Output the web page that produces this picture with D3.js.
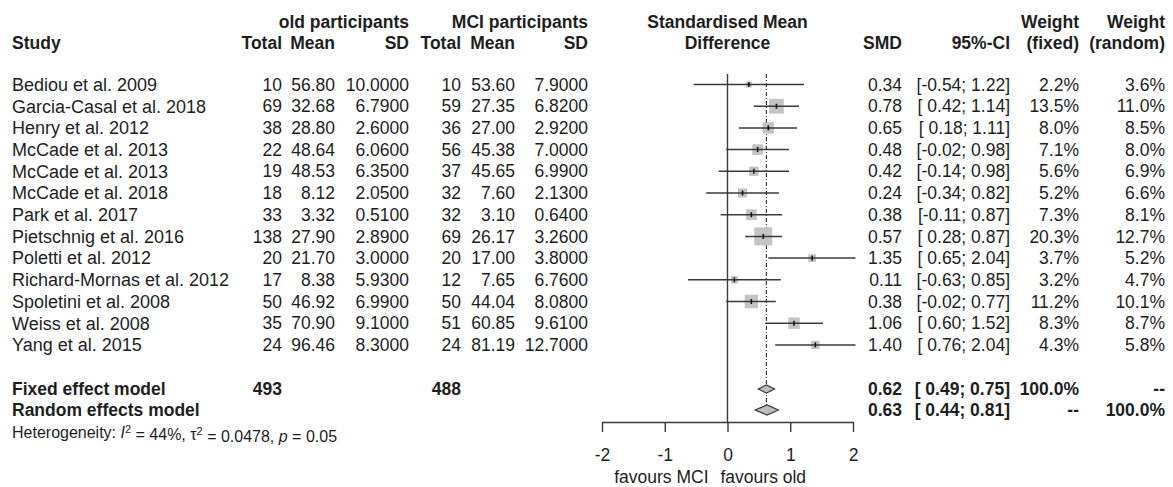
<!DOCTYPE html>
<html>
<head>
<meta charset="utf-8">
<script src="https://cdn.jsdelivr.net/npm/d3@7"></script>
<style>
  body { margin: 0; background: #fff; }
  svg text { font-family: "Liberation Sans", Arial, Helvetica, sans-serif; fill: #1e1e1e; white-space: pre; }
</style>
</head>
<body>
<svg id="chart" width="1173" height="487"></svg>
<script>
// study level data
const studies = [
  'Bediou et al. 2009', 'Garcia-Casal et al. 2018', 'Henry et al. 2012', 'McCade et al. 2013',
  'McCade et al. 2013', 'McCade et al. 2018', 'Park et al. 2017', 'Pietschnig et al. 2016',
  'Poletti et al. 2012', 'Richard-Mornas et al. 2012', 'Spoletini et al. 2008',
  'Weiss et al. 2008', 'Yang et al. 2015'
];
const oldTotal = [10, 69, 38, 22, 19, 18, 33, 138, 20, 17, 50, 35, 24];
const oldMean = [56.80, 32.68, 28.80, 48.64, 48.53, 8.12, 3.32, 27.90, 21.70, 8.38, 46.92, 70.90, 96.46];
const oldSD = [10.0, 6.79, 2.60, 6.06, 6.35, 2.05, 0.51, 2.89, 3.00, 5.93, 6.99, 9.10, 8.30];
const mciTotal = [10, 59, 36, 56, 37, 32, 32, 69, 20, 12, 50, 51, 24];
const mciMean = [53.60, 27.35, 27.00, 45.38, 45.65, 7.60, 3.10, 26.17, 17.00, 7.65, 44.04, 60.85, 81.19];
const mciSD = [7.90, 6.82, 2.92, 7.00, 6.99, 2.13, 0.64, 3.26, 3.80, 6.76, 8.08, 9.61, 12.70];
const smd = [0.34, 0.78, 0.65, 0.48, 0.42, 0.24, 0.38, 0.57, 1.35, 0.11, 0.38, 1.06, 1.40];
const ciLower = [-0.54, 0.42, 0.18, -0.02, -0.14, -0.34, -0.11, 0.28, 0.65, -0.63, -0.02, 0.60, 0.76];
const ciUpper = [1.22, 1.14, 1.11, 0.98, 0.98, 0.82, 0.87, 0.87, 2.04, 0.85, 0.77, 1.52, 2.04];
const weightFixed = [2.2, 13.5, 8.0, 7.1, 5.6, 5.2, 7.3, 20.3, 3.7, 3.2, 11.2, 8.3, 4.3];
const weightRandom = [3.6, 11.0, 8.5, 8.0, 6.9, 6.6, 8.1, 12.7, 5.2, 4.7, 10.1, 8.7, 5.8];

// pooled estimates
const modelNames = ['Fixed effect model', 'Random effects model'];
const modelSmd = [0.62, 0.63];
const modelLower = [0.49, 0.44];
const modelUpper = [0.75, 0.81];
const modelTotals = [[493, 488], [null, null]];
const modelWeights = [['100.0%', '--'], ['--', '100.0%']];
const axisTicks = [-2, -1, 0, 1, 2];

const svg = d3.select('#chart');
const fs = 17.5;
const rowY = i => 84.5 + i * 21.7;
const fixedY = 389, randomY = 410, hetY = 432, axisY = 422;

const x = d3.scaleLinear().domain([-2, 2]).range([602, 853]);
const boxSize = d3.scaleSqrt().domain([0, d3.max(weightFixed)]).range([0, 18]);

// plain hyphen instead of the unicode minus d3 uses
const f2 = v => d3.format('.2f')(v).replace('\u2212', '-');
const f4 = v => d3.format('.4f')(v).replace('\u2212', '-');
const pad = v => (v < 0 ? '' : ' ') + f2(v);
const ci = (lo, hi) => `[${pad(lo)}; ${f2(hi)}]`;

// columns: key -> right edge (or left edge for study names)
const cols = {
  oldTotal: 282, oldMean: 335, oldSD: 409,
  mciTotal: 461, mciMean: 515, mciSD: 588,
  smd: 902, ci: 1010, wFixed: 1079, wRandom: 1165
};

function txt(g, xPos, y, s, opts = {}) {
  return g.append('text')
    .attr('x', xPos)
    .attr('y', y)
    .attr('dy', '0.35em')
    .attr('text-anchor', opts.anchor || 'end')
    .style('font-size', (opts.size || fs) + 'px')
    .style('font-weight', opts.bold ? 'bold' : null)
    .text(s);
}

// header
const head = svg.append('g');
txt(head, cols.oldSD, 22, 'old participants', { bold: true });
txt(head, cols.mciSD, 22, 'MCI participants', { bold: true });
txt(head, x(0), 22, 'Standardised Mean', { bold: true, anchor: 'middle' });
txt(head, x(0), 43, 'Difference', { bold: true, anchor: 'middle' });
txt(head, cols.wFixed, 22, 'Weight', { bold: true });
txt(head, cols.wRandom, 22, 'Weight', { bold: true });
txt(head, 12, 43, 'Study', { bold: true, anchor: 'start' });
[['oldTotal', 'Total'], ['oldMean', 'Mean'], ['oldSD', 'SD'], ['mciTotal', 'Total'],
 ['mciMean', 'Mean'], ['mciSD', 'SD'], ['smd', 'SMD'], ['ci', '95%-CI'],
 ['wFixed', '(fixed)'], ['wRandom', '(random)']]
  .forEach(([k, s]) => txt(head, cols[k], 43, s, { bold: true }));

// study rows text
const body = svg.append('g');
studies.forEach((s, i) => {
  const y = rowY(i);
  txt(body, 12, y, s, { anchor: 'start', size: 18 });
  txt(body, cols.oldTotal, y, oldTotal[i]);
  txt(body, cols.oldMean, y, f2(oldMean[i]));
  txt(body, cols.oldSD, y, f4(oldSD[i]));
  txt(body, cols.mciTotal, y, mciTotal[i]);
  txt(body, cols.mciMean, y, f2(mciMean[i]));
  txt(body, cols.mciSD, y, f4(mciSD[i]));
  txt(body, cols.smd, y, f2(smd[i]));
  txt(body, cols.ci, y, ci(ciLower[i], ciUpper[i]));
  txt(body, cols.wFixed, y, d3.format('.1f')(weightFixed[i]) + '%');
  txt(body, cols.wRandom, y, d3.format('.1f')(weightRandom[i]) + '%');
});

// pooled rows text
[fixedY, randomY].forEach((y, m) => {
  txt(body, 12, y, modelNames[m], { anchor: 'start', bold: true });
  if (modelTotals[m][0] != null) {
    txt(body, cols.oldTotal, y, modelTotals[m][0], { bold: true });
    txt(body, cols.mciTotal, y, modelTotals[m][1], { bold: true });
  }
  txt(body, cols.smd, y, f2(modelSmd[m]), { bold: true });
  txt(body, cols.ci, y, ci(modelLower[m], modelUpper[m]), { bold: true });
  txt(body, cols.wFixed, y, modelWeights[m][0], { bold: true });
  txt(body, cols.wRandom, y, modelWeights[m][1], { bold: true });
});

// heterogeneity line
const het = body.append('text')
  .attr('x', 12).attr('y', hetY).attr('dy', '0.35em')
  .style('font-size', '16px');
het.append('tspan').text('Heterogeneity: ');
het.append('tspan').style('font-style', 'italic').text('I');
het.append('tspan').attr('dy', '-0.45em').style('font-size', '11px').text('2');
het.append('tspan').attr('dy', '0.45em').text(' = 44%, \u03c4');
het.append('tspan').attr('dy', '-0.45em').style('font-size', '11px').text('2');
het.append('tspan').attr('dy', '0.45em').text(' = 0.0478, ');
het.append('tspan').style('font-style', 'italic').text('p');
het.append('tspan').text(' = 0.05');

// plot area
const plot = svg.append('g');
const lineCol = '#3a3a3a';

plot.append('line')
  .attr('x1', x(0)).attr('x2', x(0))
  .attr('y1', 74).attr('y2', axisY)
  .attr('stroke', lineCol).attr('stroke-width', 1.4);

plot.append('line')
  .attr('x1', x(modelSmd[0])).attr('x2', x(modelSmd[0]))
  .attr('y1', 74).attr('y2', randomY - 5)
  .attr('stroke', lineCol).attr('stroke-width', 1.2)
  .attr('stroke-dasharray', '4,2,1,2');

const rows = plot.selectAll('g.study')
  .data(studies.map((s, i) => i))
  .enter().append('g')
  .attr('class', 'study')
  .attr('transform', i => `translate(0,${rowY(i)})`);

rows.append('rect')
  .attr('x', i => x(smd[i]) - boxSize(weightFixed[i]) / 2)
  .attr('y', i => -boxSize(weightFixed[i]) / 2)
  .attr('width', i => boxSize(weightFixed[i]))
  .attr('height', i => boxSize(weightFixed[i]))
  .attr('fill', '#c4c4c4');

rows.append('line')
  .attr('x1', i => x(ciLower[i]))
  .attr('x2', i => x(ciUpper[i]))
  .attr('stroke', lineCol).attr('stroke-width', 1.5);

rows.append('line')
  .attr('x1', i => x(smd[i])).attr('x2', i => x(smd[i]))
  .attr('y1', -2.5).attr('y2', 2.5)
  .attr('stroke', '#111').attr('stroke-width', 1.6);

// diamonds
const diamondH = [4, 5];
plot.selectAll('path.diamond')
  .data([0, 1])
  .enter().append('path')
  .attr('class', 'diamond')
  .attr('d', m => {
    const y = m === 0 ? fixedY : randomY;
    const h = diamondH[m];
    return `M${x(modelLower[m])},${y}L${x(modelSmd[m])},${y - h}L${x(modelUpper[m])},${y}L${x(modelSmd[m])},${y + h}Z`;
  })
  .attr('fill', '#bdbdbd')
  .attr('stroke', lineCol).attr('stroke-width', 1.2);

// axis
const axis = plot.append('g')
  .attr('transform', `translate(0,${axisY})`)
  .call(d3.axisBottom(x).tickValues(axisTicks).tickFormat(d3.format('d'))
    .tickSize(10).tickSizeOuter(0).tickPadding(17));
axis.select('.domain').attr('stroke', lineCol).attr('stroke-width', 1.4);
axis.selectAll('.tick line').attr('stroke', lineCol).attr('stroke-width', 1.4);
axis.selectAll('.tick text')
  .style('font-size', fs + 'px')
  .style('font-family', '"Liberation Sans", Arial, sans-serif')
  .attr('fill', '#1e1e1e')
  .text(d => d < 0 ? '-' + Math.abs(d) : d);

txt(plot, x(0) - 19, 477, 'favours MCI', { anchor: 'end' });
txt(plot, x(0) - 7, 477, 'favours old', { anchor: 'start' });
</script>
</body>
</html>
